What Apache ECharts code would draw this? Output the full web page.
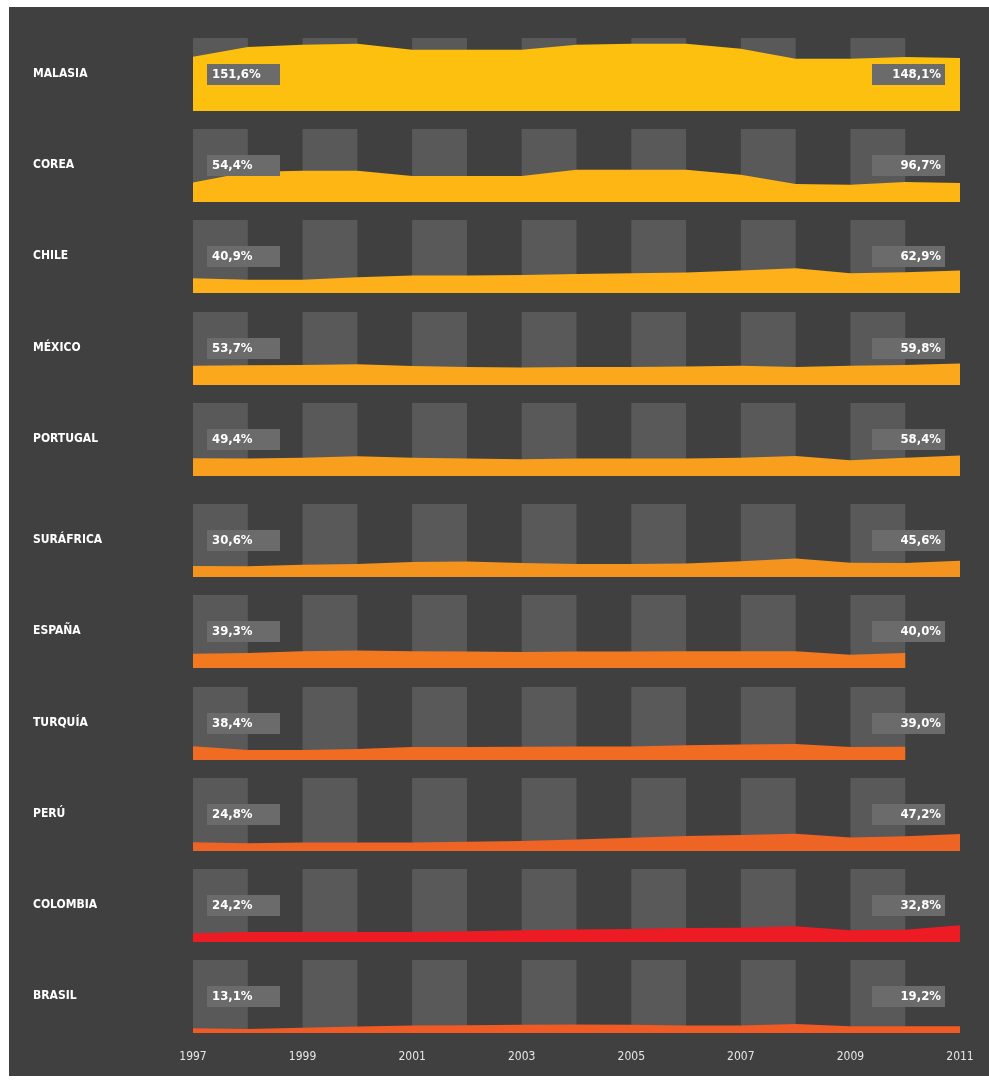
<!DOCTYPE html>
<html>
<head>
<meta charset="utf-8">
<script src="https://cdn.jsdelivr.net/npm/echarts@6/dist/echarts.min.js"></script>
<style>
  html, body { margin: 0; padding: 0; background: #fff; }
  #panel { position: absolute; left: 9px; top: 7px; width: 980px; height: 1069px; background: #404040; }
  #chart { position: absolute; left: 0; top: 0; width: 989px; height: 1081px; }
</style>
</head>
<body>
<div id="panel"></div>
<div id="chart"></div>
<script>
const years = ["1997", "1998", "1999", "2000", "2001", "2002", "2003", "2004",
  "2005", "2006", "2007", "2008", "2009", "2010", "2011"]

const countries = ["MALASIA", "COREA", "CHILE", "MÉXICO", "PORTUGAL", "SURÁFRICA",
  "ESPAÑA", "TURQUÍA", "PERÚ", "COLOMBIA", "BRASIL"]

const startLabels = ["151,6%", "54,4%", "40,9%", "53,7%", "49,4%", "30,6%",
  "39,3%", "38,4%", "24,8%", "24,2%", "13,1%"]
const endLabels = ["148,1%", "96,7%", "62,9%", "59,8%", "58,4%", "45,6%",
  "40,0%", "39,0%", "47,2%", "32,8%", "19,2%"]

// % values, 1997..2011
const malasia = [151.6, 179, 185, 188, 171, 171, 171, 185, 188, 188, 174, 146, 146, 151, 148.1]
const corea = [54.4, 84, 87, 87, 73, 73, 73, 90, 90, 90, 76, 50, 48, 56, 53]
const chile = [40.9, 37, 37, 44, 49, 49, 50, 53, 55, 57, 63, 69, 55, 58, 62.9]
const mexico = [53.7, 55, 56, 58, 53, 50, 49, 50, 50, 52, 54, 50, 54, 56, 59.8]
const portugal = [49.4, 49, 51, 55, 51, 49, 47, 49, 49, 49, 51, 56, 44, 51, 57]
const surafrica = [30.6, 30, 34, 36, 42, 43, 39, 36, 36, 38, 44, 52, 40, 39, 45.6]
const espana = [40, 42, 47, 49, 47, 46, 45, 46, 46, 47, 47, 47, 37, 42, null]
const turquia = [38.4, 28, 28, 31, 36, 36, 37, 38, 38, 41, 43, 45, 36, 37, null]
const peru = [24.8, 22, 24, 24, 24, 26, 28, 32, 37, 42, 45, 48, 38, 41, 47.2]
const colombia = [24.2, 28, 28, 28, 28, 30, 33, 35, 36, 39, 40, 44, 33, 34, 47]
const brasil = [13.1, 11, 15, 18, 21, 22, 23, 24, 23, 21, 21, 25, 19, 19, 19.2]

const seriesData = [malasia, corea, chile, mexico, portugal, surafrica,
  espana, turquia, peru, colombia, brasil]

const areaColors = ["#fdc00e", "#fdb614", "#fdb019", "#fca81c", "#f89f1e", "#f5931f",
  "#f37921", "#f06c23", "#ee6424", "#ed1c24", "#f05a24"]

// layout
const rowTops = [38, 129, 220, 312, 403, 504, 595, 687, 778, 869, 960]
const rowH = 73
const gridLeft = 193
const gridRight = 29
const font = "'DejaVu Sans Condensed', 'Liberation Sans Narrow', sans-serif"

const chart = echarts.init(document.getElementById("chart"))

const grids = [], xAxes = [], yAxes = [], series = [], graphics = []

rowTops.forEach((top, i) => {
  const last = i === rowTops.length - 1
  grids.push({ left: gridLeft, right: gridRight, top: top, height: rowH })
  xAxes.push({
    type: "category",
    gridIndex: i,
    data: years,
    boundaryGap: false,
    axisLine: { show: false },
    axisTick: { show: false },
    splitLine: { show: false },
    splitArea: { show: true, interval: 0, areaStyle: { color: ["#59595a", "rgba(0,0,0,0)"] } },
    axisLabel: {
      show: last,
      interval: 1,
      margin: 18,
      color: "#e6e6e6",
      fontFamily: font,
      fontSize: 12
    }
  })
  yAxes.push({ type: "value", gridIndex: i, min: 0, max: 204, show: false })
  series.push({
    type: "line",
    xAxisIndex: i,
    yAxisIndex: i,
    data: seriesData[i],
    symbol: "none",
    lineStyle: { width: 0 },
    areaStyle: { color: areaColors[i], opacity: 1 },
    itemStyle: { color: areaColors[i] },
    z: 3
  })

  const cy = top + rowH / 2
  graphics.push({
    type: "text",
    left: 33,
    top: cy - 7,
    style: { text: countries[i], fill: "#fff", font: "bold 12px " + font }
  })
  graphics.push({
    type: "rect",
    shape: { x: 207, y: cy - 10.5, width: 73, height: 21 },
    style: { fill: "#6b6b6b" },
    z: 10
  })
  graphics.push({
    type: "text",
    x: 212, y: cy,
    style: { text: startLabels[i], fill: "#fff", font: "bold 13px " + font, textVerticalAlign: "middle" },
    z: 11
  })
  graphics.push({
    type: "rect",
    shape: { x: 872, y: cy - 10.5, width: 73, height: 21 },
    style: { fill: "#6b6b6b" },
    z: 10
  })
  graphics.push({
    type: "text",
    x: 941, y: cy,
    style: { text: endLabels[i], fill: "#fff", font: "bold 13px " + font, textAlign: "right", textVerticalAlign: "middle" },
    z: 11
  })
})

chart.setOption({
  backgroundColor: "transparent",
  animation: false,
  grid: grids,
  xAxis: xAxes,
  yAxis: yAxes,
  series: series,
  graphic: graphics
})
</script>
</body>
</html>
